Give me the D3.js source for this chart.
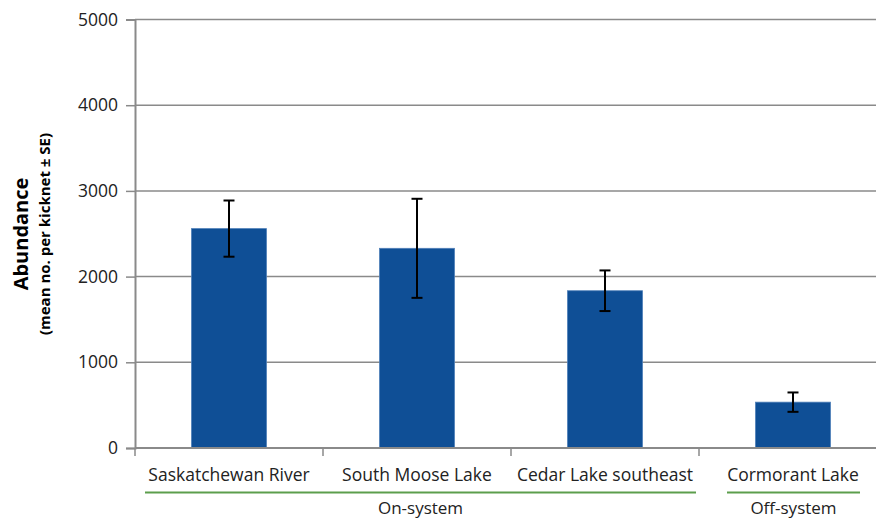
<!DOCTYPE html>
<html>
<head>
<meta charset="utf-8">
<script src="https://cdn.jsdelivr.net/npm/d3@7"></script>
<style>
  html, body { margin: 0; padding: 0; background: #fff; }
  svg { display: block; font-family: "Open Sans", "Noto Sans", sans-serif; }
</style>
</head>
<body>
<svg id="chart" width="876" height="519"></svg>
<script>
// Benthic invertebrate abundance per waterbody
const sites = ["Saskatchewan River", "South Moose Lake", "Cedar Lake southeast", "Cormorant Lake"];
const meanAbundance = [2560, 2330, 1835, 535];
const standardError = [328, 578, 237, 113];
const yTicks = [0, 1000, 2000, 3000, 4000, 5000];
const groupNames = ["On-system", "Off-system"];
const groupFirstSite = [0, 3];
const groupLastSite = [2, 3];

const svg = d3.select("#chart");
const margin = { left: 135, top: 19.5, bottom: 448 };
const plotRight = 887;

const x = d3.scaleBand().domain(sites).range([margin.left, plotRight]).paddingInner(0).paddingOuter(0);
const y = d3.scaleLinear().domain([0, 5000]).range([margin.bottom, margin.top]);

const gridColor = "#8a8a8a";
const textColor = "#222";

// horizontal gridlines
svg.append("g").selectAll("line").data(yTicks.filter(d => d > 0)).join("line")
  .attr("x1", margin.left).attr("x2", 876)
  .attr("y1", d => y(d)).attr("y2", d => y(d))
  .attr("stroke", gridColor).attr("stroke-width", 1.5);

// y axis
const yAxis = svg.append("g").attr("transform", `translate(${margin.left},0)`)
  .call(d3.axisLeft(y).tickValues(yTicks).tickSize(9).tickPadding(8).tickFormat(d3.format("d")));
yAxis.select(".domain").attr("stroke", gridColor).attr("stroke-width", 2);
yAxis.selectAll(".tick line").attr("stroke", gridColor).attr("stroke-width", 1.5);
yAxis.selectAll(".tick text").attr("fill", textColor).style("font-size", "17.5px")
  .style("font-family", "'Open Sans', sans-serif");

// bars
const barWidth = 75;
svg.append("g").selectAll("rect").data(sites).join("rect")
  .attr("x", d => x(d) + x.bandwidth() / 2 - barWidth / 2)
  .attr("width", barWidth)
  .attr("y", (d, i) => y(meanAbundance[i]))
  .attr("height", (d, i) => y(0) - y(meanAbundance[i]))
  .attr("fill", "#0f4f96")
  .attr("stroke", "#4f7fb8").attr("stroke-width", 0.8);

// x axis baseline with boundary ticks
svg.append("line")
  .attr("x1", margin.left).attr("x2", 876)
  .attr("y1", y(0)).attr("y2", y(0))
  .attr("stroke", gridColor).attr("stroke-width", 2);
const boundaries = sites.map(d => x(d));
svg.append("g").selectAll("line").data(boundaries).join("line")
  .attr("x1", d => d).attr("x2", d => d)
  .attr("y1", y(0)).attr("y2", y(0) + 8)
  .attr("stroke", gridColor).attr("stroke-width", 1.5);

// error bars
const errG = svg.append("g").attr("stroke", "#000").attr("stroke-width", 2);
sites.forEach((s, i) => {
  const cx = x(s) + x.bandwidth() / 2;
  const hi = y(meanAbundance[i] + standardError[i]);
  const lo = y(meanAbundance[i] - standardError[i]);
  errG.append("line").attr("x1", cx).attr("x2", cx).attr("y1", hi).attr("y2", lo);
  errG.append("line").attr("x1", cx - 5.5).attr("x2", cx + 5.5).attr("y1", hi).attr("y2", hi);
  errG.append("line").attr("x1", cx - 5.5).attr("x2", cx + 5.5).attr("y1", lo).attr("y2", lo);
});

// category labels
svg.append("g").selectAll("text").data(sites).join("text")
  .attr("x", d => x(d) + x.bandwidth() / 2)
  .attr("y", 481)
  .attr("text-anchor", "middle")
  .attr("fill", textColor)
  .style("font-size", "17.5px")
  .text(d => d);

// grouping underlines and names
groupNames.forEach((g, i) => {
  const last = i === groupNames.length - 1;
  const x0 = last ? 727 : x(sites[groupFirstSite[i]]) + 10;
  const x1 = last ? 860 : x(sites[groupLastSite[i]]) + x.bandwidth() - 3;
  svg.append("line").attr("x1", x0).attr("x2", x1).attr("y1", 492.5).attr("y2", 492.5)
    .attr("stroke", "#5c9e4c").attr("stroke-width", 2);
  svg.append("text")
    .attr("x", (x0 + x1) / 2).attr("y", 514)
    .attr("text-anchor", "middle").attr("fill", textColor)
    .style("font-size", "17px")
    .text(g);
});

// y axis title
svg.append("text")
  .attr("transform", "translate(28,234) rotate(-90)")
  .attr("text-anchor", "middle")
  .attr("fill", "#000")
  .style("font-size", "20px").style("font-weight", "bold")
  .text("Abundance");
svg.append("text")
  .attr("transform", "translate(50,234) rotate(-90)")
  .attr("text-anchor", "middle")
  .attr("fill", "#000")
  .style("font-size", "15px").style("font-weight", "bold")
  .text("(mean no. per kicknet ± SE)");
</script>
</body>
</html>
